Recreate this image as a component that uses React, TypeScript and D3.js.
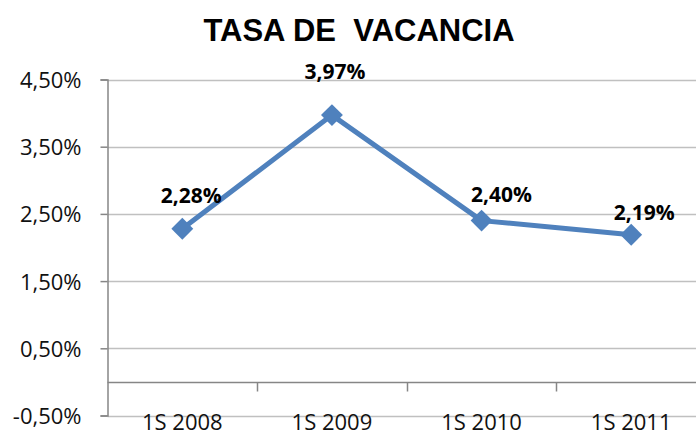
import React, { useEffect, useRef } from "react";
import * as d3 from "d3";

const categories = ["1S 2008", "1S 2009", "1S 2010", "1S 2011"];
const vacancia = [2.28, 3.97, 2.4, 2.19];
const valueLabels = ["2,28%", "3,97%", "2,40%", "2,19%"];
const yTicks = [-0.5, 0.5, 1.5, 2.5, 3.5, 4.5];
const yTickLabels = ["-0,50%", "0,50%", "1,50%", "2,50%", "3,50%", "4,50%"];
// hand-placed label offsets (px) like in the original sheet
const labelNudge = [
    [9, -26],
    [3, -36],
    [20, -19],
    [13, -15]
];

function App() {
    const svgRef = useRef<SVGSVGElement>(null);

    useEffect(() => {
        document.body.style.margin = "0";

        const width = 696,
              height = 436;
        const margin = { top: 79.5, right: -10, bottom: 20.5, left: 107.5 };

        const svg = d3.select(svgRef.current);
        svg.selectAll("*").remove();

        const xScale = d3.scaleBand()
            .domain(categories)
            .range([margin.left, width - margin.right])
            .padding(0);

        const yScale = d3.scaleLinear()
            .domain([-0.5, 4.5])
            .range([height - margin.bottom, margin.top]);

        // title
        svg.append("text")
            .attr("x", 359)
            .attr("y", 41)
            .attr("text-anchor", "middle")
            .attr("font-family", "'Liberation Sans', Arial, sans-serif")
            .attr("font-weight", "bold")
            .attr("font-size", "31px")
            .style("white-space", "pre")
            .text("TASA DE  VACANCIA");

        // gridlines
        svg.append("g")
            .selectAll("line")
            .data(yTicks)
            .join("line")
                .attr("x1", margin.left)
                .attr("x2", width)
                .attr("y1", d => Math.round(yScale(d)) + 0.5)
                .attr("y2", d => Math.round(yScale(d)) + 0.5)
                .attr("stroke", "#c0c0c0")
                .attr("stroke-width", 1.5);

        // y axis
        const yAxis = svg.append("g")
            .attr("transform", `translate(${margin.left}, 0)`)
            .call(
                d3.axisLeft(yScale)
                    .tickValues(yTicks)
                    .tickSize(7)
                    .tickPadding(19)
                    .tickFormat((d, i) => yTickLabels[i])
            );
        yAxis.select(".domain").attr("stroke", "#868686").attr("stroke-width", 1.5);
        yAxis.selectAll(".tick line").attr("stroke", "#868686").attr("stroke-width", 1.5);
        yAxis.selectAll("text")
            .attr("font-family", "'Open Sans', sans-serif")
            .attr("font-size", "22px")
            .attr("fill", "#111")
            .attr("dy", "0.36em");

        // x axis sits on zero
        const xAxis = svg.append("g")
            .attr("transform", `translate(0, ${Math.round(yScale(0)) + 0.5})`);
        xAxis.append("line")
            .attr("x1", margin.left)
            .attr("x2", width)
            .attr("stroke", "#868686")
            .attr("stroke-width", 1.5);
        xAxis.selectAll(".xtick")
            .data(categories.slice(1))
            .join("line")
                .attr("class", "xtick")
                .attr("x1", d => Math.round(xScale(d)!) + 0.5)
                .attr("x2", d => Math.round(xScale(d)!) + 0.5)
                .attr("y1", 0)
                .attr("y2", 9)
                .attr("stroke", "#868686")
                .attr("stroke-width", 1.5);

        svg.append("g")
            .selectAll("text")
            .data(categories)
            .join("text")
                .attr("x", d => xScale(d)! + xScale.bandwidth() / 2)
                .attr("y", 430)
                .attr("text-anchor", "middle")
                .attr("font-family", "'Open Sans', sans-serif")
                .attr("font-size", "22px")
                .attr("fill", "#111")
                .text(d => d);

        const cx = (i: number) => xScale(categories[i])! + xScale.bandwidth() / 2;

        const lineGenerator = d3.line<number>()
            .x((d, i) => cx(i))
            .y(d => yScale(d));

        svg.append("path")
            .datum(vacancia)
            .attr("d", lineGenerator)
            .attr("fill", "none")
            .attr("stroke", "#4f81bd")
            .attr("stroke-width", 5)
            .attr("stroke-linejoin", "round");

        svg.append("g")
            .selectAll("path")
            .data(vacancia)
            .join("path")
                .attr("d", d3.symbol(d3.symbolSquare, 240))
                .attr("transform", (d, i) => `translate(${cx(i)}, ${yScale(d)}) rotate(45)`)
                .attr("fill", "#4f81bd");

        svg.append("g")
            .selectAll("text")
            .data(vacancia)
            .join("text")
                .attr("x", (d, i) => cx(i) + labelNudge[i][0])
                .attr("y", (d, i) => yScale(d) + labelNudge[i][1])
                .attr("text-anchor", "middle")
                .attr("font-family", "'Open Sans', sans-serif")
                .attr("font-weight", "bold")
                .attr("font-size", "21px")
                .attr("fill", "#000")
                .text((d, i) => valueLabels[i]);
    }, []);

    return (
        <svg
            ref={svgRef}
            width={696}
            height={436}
            style={{ display: "block", background: "#fff" }}
        ></svg>
    );
}

export default App;
